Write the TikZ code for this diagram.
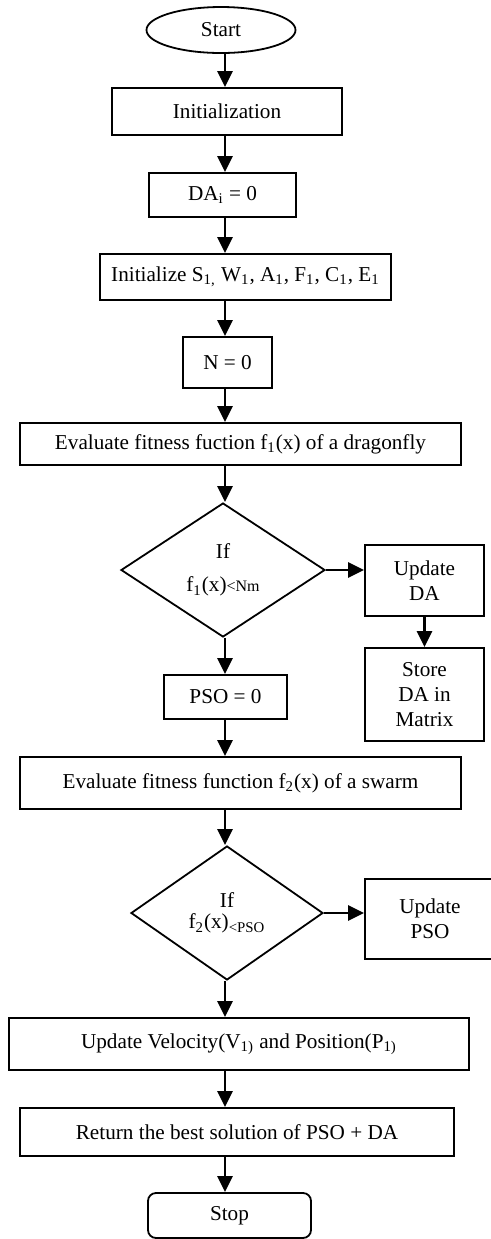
\documentclass[tikz,border=0pt]{standalone}
\usepackage{fontspec}
\setmainfont{Liberation Serif}
\usetikzlibrary{shapes.geometric,arrows.meta}

\tikzset{
    box/.style={draw, line width=0.9pt, inner sep=0pt, align=center},
    decision/.style={draw, diamond, line width=0.9pt, inner sep=0pt, align=center},
    arr/.style={line width=1.4pt, -{Triangle[length=8pt,width=7.5pt]}},
}

\begin{document}
\begin{tikzpicture}[x=0.5pt, y=-0.5pt, font=\fontsize{10.6}{12.5}\selectfont]
    \useasboundingbox (0,0) rectangle (491,1239);
    % Eje vertical de las flechas
    \coordinate (spine) at (225,0);
    % Inicio
    \node[draw, ellipse, line width=0.9pt, minimum width=74.5pt, minimum height=23pt,
        inner sep=0pt] (start) at (221,30) {Start};
    \node[box, minimum width=115pt, minimum height=23.5pt] (init) at (227,111.5)
        {Initialization};
    \node[box, minimum width=73.5pt, minimum height=22pt] (dai) at (222.5,195)
        {DA\textsubscript{i} = 0};
    \node[box, minimum width=145.5pt, minimum height=23pt] (initS) at (245.5,277)
        {Initialize S\textsubscript{1,} W\textsubscript{1}, A\textsubscript{1},
         F\textsubscript{1}, C\textsubscript{1}, E\textsubscript{1}};
    \node[box, minimum width=44.5pt, minimum height=25.5pt] (nzero) at (227.5,362.5)
        {N = 0};
    % Dragonfly
    \node[box, minimum width=220.5pt, minimum height=21pt] (evalA) at (240.5,444)
        {Evaluate fitness fuction f\textsubscript{1}(x) of a dragonfly};
    \node[decision, minimum width=102pt, minimum height=67pt] (ifA) at (223,570)
        {If\\[4pt] f\textsubscript{1}(x){\footnotesize<Nm}};
    \node[box, minimum width=59.5pt, minimum height=35.5pt] (upDA) at (424.5,580.5)
        {Update\\DA};
    \node[box, minimum width=59.5pt, minimum height=46.5pt] (storeDA) at (424.5,694.5)
        {Store\\DA in\\Matrix};
    % PSO
    \node[box, minimum width=61.5pt, minimum height=22pt] (psozero) at (225.5,697)
        {PSO = 0};
    \node[box, minimum width=220.5pt, minimum height=26pt] (evalB) at (240.5,783)
        {Evaluate fitness function f\textsubscript{2}(x) of a swarm};
    \node[decision, minimum width=96pt, minimum height=67pt] (ifB) at (227,913)
        {If\\[-2pt] f\textsubscript{2}(x)\textsubscript{<PSO}};
    \node[box, minimum width=65pt, minimum height=40pt] (upPSO) at (430,919)
        {Update\\PSO};
    % Final
    \node[box, minimum width=230pt, minimum height=26pt] (upVel) at (239,1044)
        {Update Velocity(V\textsubscript{1)} and Position(P\textsubscript{1)}};
    \node[box, minimum width=217pt, minimum height=24pt] (ret) at (237,1132)
        {Return the best solution of PSO + DA};
    \node[box, rounded corners=4pt, minimum width=81.5pt, minimum height=22.5pt]
        (stop) at (229.5,1215.5) {Stop};
    % Flechas
    \foreach \a/\b in {start/init, init/dai, dai/initS, initS/nzero, nzero/evalA,
        evalA/ifA, ifA/psozero, psozero/evalB, evalB/ifB, ifB/upVel, upVel/ret, ret/stop}
        \draw[arr] (\a.south -| spine) -- (\b.north -| spine);
    \draw[arr] (ifA.east) -- (ifA.east -| upDA.west);
    \draw[arr] (upDA) -- (storeDA);
    \draw[arr] (ifB.east) -- (ifB.east -| upPSO.west);
\end{tikzpicture}
\end{document}
